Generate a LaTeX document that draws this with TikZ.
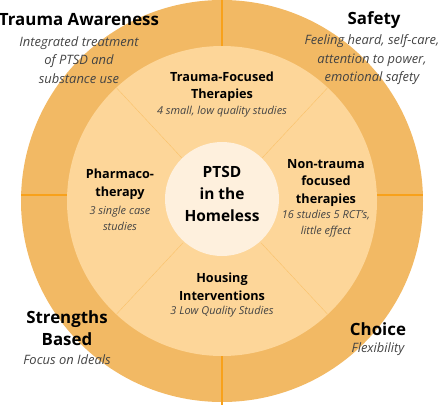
\documentclass[tikz,border=0pt]{standalone}
\usepackage{fontspec}
\setmainfont{Open Sans}

\definecolor{ringout}{HTML}{F2B964}
\definecolor{ringin}{HTML}{FDD699}
\definecolor{hubfill}{HTML}{FEF0DD}
\definecolor{divide}{HTML}{F8A11B}
\definecolor{notegray}{HTML}{444444}

\begin{document}
\begin{tikzpicture}[
    principle/.style={font=\fontsize{12}{15.6}\selectfont\bfseries, align=center, inner sep=0pt},
    detail/.style={font=\fontsize{9.2}{13.2}\selectfont\itshape, text=notegray, align=center, inner sep=0pt},
    therapy/.style={font=\fontsize{9}{12.4}\selectfont\bfseries, align=center, inner sep=0pt},
    study/.style={font=\fontsize{7.8}{11.4}\selectfont\itshape, text=notegray, align=center, inner sep=0pt},
    divider/.style={divide, line width=2.1pt},
    spoke/.style={divide!65, line width=0.3pt},
]

    \useasboundingbox (-5.55,-5.1) rectangle (5.45,5.025);

    % Rings
    \fill[ringout] (0,0) circle (5.025);
    \fill[ringin] (0,0) circle (3.875);

    % Dividers
    \draw[divider] (90:3.875) -- (90:5.025);
    \draw[divider] (270:3.875) -- (270:5.1);
    \draw[divider] (-5.023,0.15) -- (-3.872,0.15);
    \draw[divider] (3.872,0.15) -- (5.023,0.15);
    \foreach \a in {47,133,227,313}
        \draw[spoke] (\a:1.425) -- (\a:3.875);

    % Hub
    \fill[hubfill] (0,0.05) circle (1.425);
    \node[principle, font=\fontsize{11}{15.6}\selectfont\bfseries] (hub) at (0,0.175) {PTSD\\in the\\Homeless};

    % Inner segments
    \node[therapy] (focused) at (0,2.86) {Trauma-Focused\\Therapies};
    \node[study] (focusednote) at (0,2.225) {4 small, low quality studies};
    \node[therapy] (pharma) at (-2.55,0.425) {Pharmaco-\\therapy};
    \node[study] (pharmanote) at (-2.55,-0.425) {3 single case\\studies};
    \node[therapy] (nontrauma) at (2.6,0.45) {Non-trauma\\focused\\therapies};
    \node[study] (nontraumanote) at (2.6,-0.575) {16 studies 5 RCT's,\\little effect};
    \node[therapy] (housing) at (0,-2.14) {Housing\\Interventions};
    \node[study] (housingnote) at (0,-2.775) {3 Low Quality Studies};

    % Principles
    \node[principle] (awareness) at (-3.575,4.525) {Trauma Awareness};
    \node[detail] (awarenessnote) at (-3.575,3.525) {Integrated treatment\\of PTSD and\\substance use};
    \node[principle] (safety) at (3.8,4.525) {Safety};
    \node[detail] (safetynote) at (3.75,3.525) {Feeling heard, self-care,\\attention to power,\\emotional safety};
    \node[principle] (strengths) at (-3.875,-3.175) {Strengths\\Based};
    \node[detail] (strengthsnote) at (-3.875,-3.975) {Focus on Ideals};
    \node[principle] (choice) at (3.9,-3.2) {Choice};
    \node[detail] (choicenote) at (3.9,-3.7) {Flexibility};

\end{tikzpicture}
\end{document}
